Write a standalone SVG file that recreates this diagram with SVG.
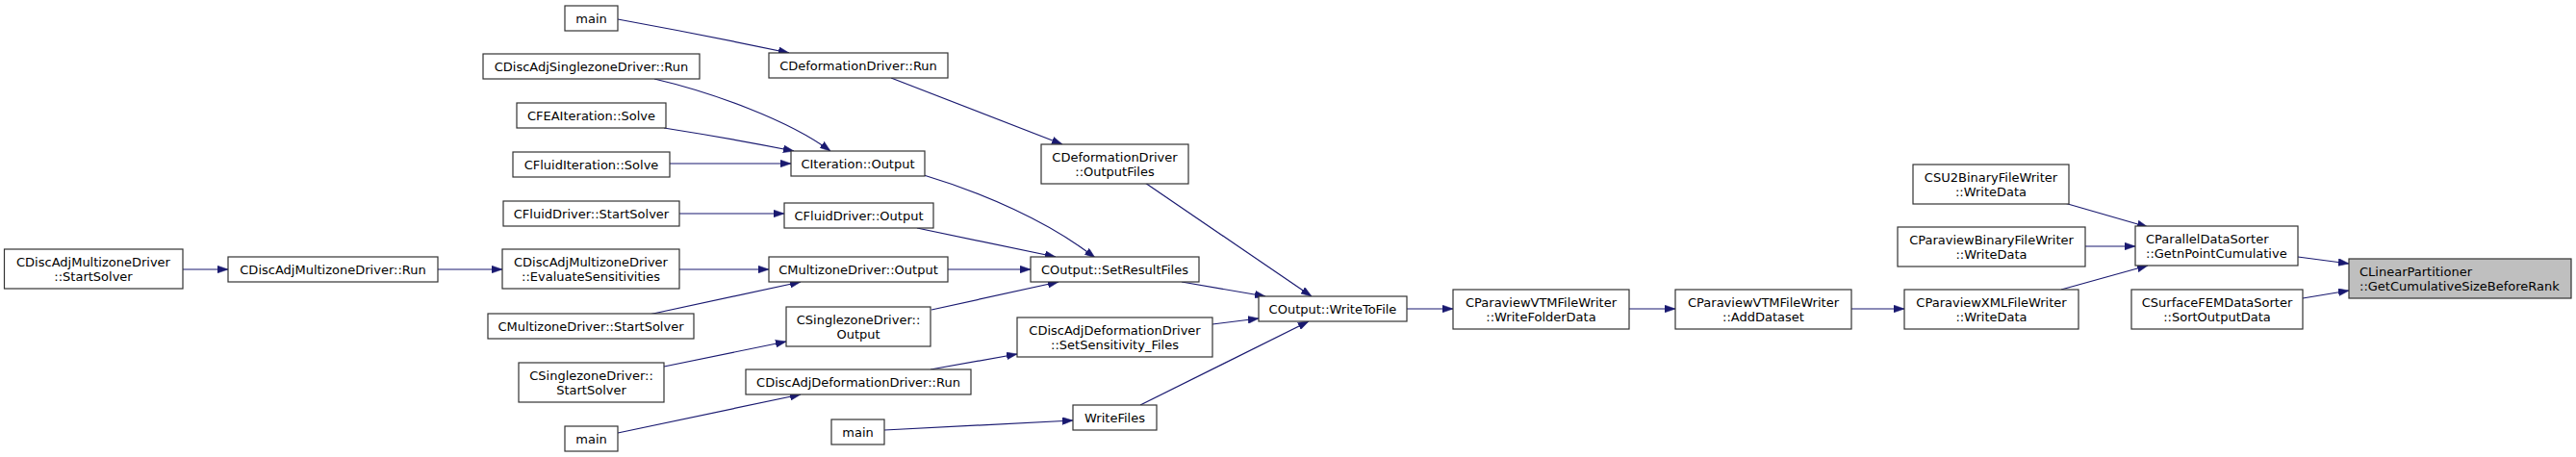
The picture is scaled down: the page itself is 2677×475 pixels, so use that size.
<svg xmlns="http://www.w3.org/2000/svg" width="2677" height="475" viewBox="0 0 2677 475">
<style>
.n rect{fill:#ffffff;stroke:#333333;stroke-width:1.2}
.n.hl rect{fill:#bfbfbf}
.n text{font-family:"DejaVu Sans",sans-serif;font-size:13px;fill:#000;text-anchor:middle}
.n text.l{text-anchor:start}
.e path{fill:none;stroke:#191970;stroke-width:1.2;marker-end:url(#ah)}
</style>
<defs>
<marker id="ah" viewBox="0 0 10 7" refX="10" refY="3.5" markerWidth="11" markerHeight="8" markerUnits="userSpaceOnUse" orient="auto">
<path d="M0,0 L10,3.5 L0,7 z" fill="#191970" stroke="#191970" stroke-width="0.5"/>
</marker>
</defs>
<rect width="2677" height="475" fill="#ffffff"/>
<g id="edges" class="e">
<path d="M642,20 Q730,36 820,55"/>
<path d="M680,82 C740,96 820,125 863,157"/>
<path d="M690,133 Q760,144 825,157"/>
<path d="M696,170 L822,170"/>
<path d="M706,222 L815,222"/>
<path d="M926,81 L1104,150"/>
<path d="M960,182 C1020,200 1090,230 1138,268"/>
<path d="M953,237 L1097,267"/>
<path d="M1190,190 L1363,308"/>
<path d="M190,280 L237,280"/>
<path d="M455,280 L522,280"/>
<path d="M706,280 L799,280"/>
<path d="M674,327 L832,293"/>
<path d="M985,280 L1071,280"/>
<path d="M968,322 L1100,293"/>
<path d="M690,381 L817,355"/>
<path d="M642,450 L832,410"/>
<path d="M967,384 L1057,368"/>
<path d="M919,447 L1115,437"/>
<path d="M1228,293 L1315,308"/>
<path d="M1260,337 L1308,331"/>
<path d="M1185,421 L1360,334"/>
<path d="M1462,321 L1510,321"/>
<path d="M1693,321 L1741,321"/>
<path d="M1924,321 L1979,321"/>
<path d="M2142,210 L2232,236"/>
<path d="M2167,256 L2219,256"/>
<path d="M2142,301 L2232,276"/>
<path d="M2388,267 L2441,274"/>
<path d="M2393,310 L2441,302"/>
</g>
<g id="main_top" class="n"><rect x="587" y="6" width="55" height="26"/><text x="614.5" y="23.5">main</text></g>
<g id="CDiscAdjSinglezoneDriver_Run" class="n"><rect x="502" y="56" width="225" height="26"/><text x="614.5" y="73.5">CDiscAdjSinglezoneDriver::Run</text></g>
<g id="CFEAIteration_Solve" class="n"><rect x="537" y="107" width="155" height="26"/><text x="614.5" y="124.5">CFEAIteration::Solve</text></g>
<g id="CFluidIteration_Solve" class="n"><rect x="533" y="158" width="163" height="26"/><text x="614.5" y="175.5">CFluidIteration::Solve</text></g>
<g id="CFluidDriver_StartSolver" class="n"><rect x="523" y="209" width="183" height="26"/><text x="614.5" y="226.5">CFluidDriver::StartSolver</text></g>
<g id="CDiscAdjMultizoneDriver_StartSolver" class="n"><rect x="4.5" y="259" width="185.5" height="41"/><text x="97" y="276.5">CDiscAdjMultizoneDriver</text><text x="97" y="291.5">::StartSolver</text></g>
<g id="CDiscAdjMultizoneDriver_Run" class="n"><rect x="237" y="267" width="218" height="26"/><text x="346" y="284.5">CDiscAdjMultizoneDriver::Run</text></g>
<g id="CDiscAdjMultizoneDriver_EvaluateSensitivities" class="n"><rect x="522" y="259" width="184" height="41"/><text x="614" y="276.5">CDiscAdjMultizoneDriver</text><text x="614" y="291.5">::EvaluateSensitivities</text></g>
<g id="CMultizoneDriver_StartSolver" class="n"><rect x="507" y="326" width="214" height="26"/><text x="614" y="343.5">CMultizoneDriver::StartSolver</text></g>
<g id="CSinglezoneDriver_StartSolver" class="n"><rect x="539" y="377" width="151" height="41"/><text x="614.5" y="394.5">CSinglezoneDriver::</text><text x="614.5" y="409.5">StartSolver</text></g>
<g id="main_bottom" class="n"><rect x="587" y="443" width="55" height="26"/><text x="614.5" y="460.5">main</text></g>
<g id="CDeformationDriver_Run" class="n"><rect x="799" y="55" width="186" height="26"/><text x="892" y="72.5">CDeformationDriver::Run</text></g>
<g id="CIteration_Output" class="n"><rect x="822" y="157" width="139" height="26"/><text x="891.5" y="174.5">CIteration::Output</text></g>
<g id="CFluidDriver_Output" class="n"><rect x="815" y="211" width="155" height="26"/><text x="892.5" y="228.5">CFluidDriver::Output</text></g>
<g id="CMultizoneDriver_Output" class="n"><rect x="799" y="267" width="186" height="26"/><text x="892" y="284.5">CMultizoneDriver::Output</text></g>
<g id="CSinglezoneDriver_Output" class="n"><rect x="817" y="319" width="150" height="41"/><text x="892" y="336.5">CSinglezoneDriver::</text><text x="892" y="351.5">Output</text></g>
<g id="CDiscAdjDeformationDriver_Run" class="n"><rect x="775" y="384" width="234" height="26"/><text x="892" y="401.5">CDiscAdjDeformationDriver::Run</text></g>
<g id="main_mid" class="n"><rect x="864" y="436" width="55" height="26"/><text x="891.5" y="453.5">main</text></g>
<g id="CDeformationDriver_OutputFiles" class="n"><rect x="1082" y="150" width="153" height="41"/><text x="1158.5" y="167.5">CDeformationDriver</text><text x="1158.5" y="182.5">::OutputFiles</text></g>
<g id="COutput_SetResultFiles" class="n"><rect x="1071" y="267" width="175" height="26"/><text x="1158.5" y="284.5">COutput::SetResultFiles</text></g>
<g id="CDiscAdjDeformationDriver_SetSensitivity_Files" class="n"><rect x="1057" y="330" width="203" height="41"/><text x="1158.5" y="347.5">CDiscAdjDeformationDriver</text><text x="1158.5" y="362.5">::SetSensitivity_Files</text></g>
<g id="WriteFiles" class="n"><rect x="1115" y="421" width="87" height="26"/><text x="1158.5" y="438.5">WriteFiles</text></g>
<g id="COutput_WriteToFile" class="n"><rect x="1308" y="308" width="154" height="26"/><text x="1385" y="325.5">COutput::WriteToFile</text></g>
<g id="CParaviewVTMFileWriter_WriteFolderData" class="n"><rect x="1510" y="301" width="183" height="41"/><text x="1601.5" y="318.5">CParaviewVTMFileWriter</text><text x="1601.5" y="333.5">::WriteFolderData</text></g>
<g id="CParaviewVTMFileWriter_AddDataset" class="n"><rect x="1741" y="301" width="183" height="41"/><text x="1832.5" y="318.5">CParaviewVTMFileWriter</text><text x="1832.5" y="333.5">::AddDataset</text></g>
<g id="CParaviewXMLFileWriter_WriteData" class="n"><rect x="1979" y="301" width="181" height="41"/><text x="2069.5" y="318.5">CParaviewXMLFileWriter</text><text x="2069.5" y="333.5">::WriteData</text></g>
<g id="CSU2BinaryFileWriter_WriteData" class="n"><rect x="1988" y="171" width="162" height="41"/><text x="2069" y="188.5">CSU2BinaryFileWriter</text><text x="2069" y="203.5">::WriteData</text></g>
<g id="CParaviewBinaryFileWriter_WriteData" class="n"><rect x="1972" y="236" width="195" height="41"/><text x="2069.5" y="253.5">CParaviewBinaryFileWriter</text><text x="2069.5" y="268.5">::WriteData</text></g>
<g id="CParallelDataSorter_GetnPointCumulative" class="n"><rect x="2219" y="235" width="169" height="41"/><text class="l" x="2230" y="252.5">CParallelDataSorter</text><text class="l" x="2230" y="267.5">::GetnPointCumulative</text></g>
<g id="CSurfaceFEMDataSorter_SortOutputData" class="n"><rect x="2215" y="301" width="178" height="41"/><text x="2304" y="318.5">CSurfaceFEMDataSorter</text><text x="2304" y="333.5">::SortOutputData</text></g>
<g id="CLinearPartitioner_GetCumulativeSizeBeforeRank" class="n hl"><rect x="2441" y="269" width="231" height="41"/><text class="l" x="2452" y="286.5">CLinearPartitioner</text><text class="l" x="2452" y="301.5">::GetCumulativeSizeBeforeRank</text></g>
</svg>
